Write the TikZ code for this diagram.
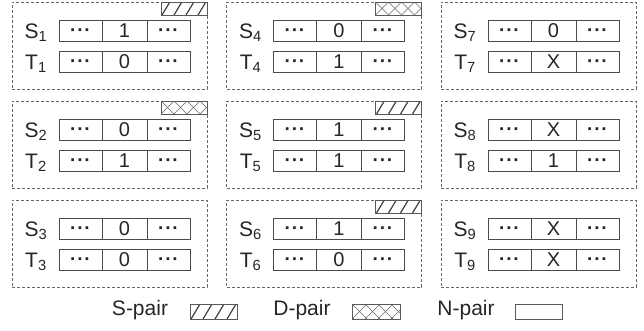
\documentclass[tikz,border=0pt]{standalone}
\usepackage{fontspec}
\setmainfont{Liberation Sans}
\newcommand{\dotsx}{\raisebox{-5pt}[0pt][0pt]{\fontsize{19}{19}\selectfont\bfseries ·\kern0.8pt·\kern0.8pt·}}
\tikzset{
  panel/.style={draw=black!60, dash pattern=on 3pt off 2pt, line width=0.6pt, inner sep=0pt, outer sep=0pt,
    minimum width=195pt, minimum height=87pt, anchor=north west},
  cell/.style={draw=black!70, line width=0.7pt, minimum height=21pt, inner sep=0pt, outer sep=0pt,
    anchor=west, font=\fontsize{20}{20}\selectfont, text=black!85},
  lbl/.style={inner sep=0pt, font=\fontsize{21}{21}\selectfont, text=black!85},
  swatch/.style={draw=black!65, line width=0.6pt, inner sep=0pt, outer sep=0pt},
  shatch/.style={swatch, path picture={
      \foreach \k in {-1,...,5}
        \draw[line width=1.2pt, black!75]
          ([xshift=\k*12pt+1pt]path picture bounding box.south west) -- ++(9pt,15pt);
    }},
  dhatch/.style={swatch, path picture={
      \foreach \k in {-1,...,5}{
        \draw[line width=0.5pt, black!60]
          ([xshift=\k*13pt]path picture bounding box.south west) -- ++(15pt,15pt);
        \draw[line width=0.5pt, black!60]
          ([xshift=\k*13pt]path picture bounding box.north west) -- ++(15pt,-15pt);
      }
    }},
  legtext/.style={inner sep=0pt, font=\fontsize{21}{21}\selectfont, text=black!85}
}
\begin{document}
\begin{tikzpicture}[x=1pt,y=-1pt]
\useasboundingbox (0,0) rectangle (644,330);
\foreach \c/\r/\i/\sv/\tv/\tg in {0/0/1/1/0/s, 0/1/2/0/1/d, 0/2/3/0/0/n,
                                 1/0/4/0/1/d, 1/1/5/1/1/s, 1/2/6/1/0/s,
                                 2/0/7/0/X/n, 2/1/8/X/1/n, 2/2/9/X/X/n}{
  \pgfmathsetmacro\px{12+214.5*\c}
  \pgfmathsetmacro\py{2+99*\r}
  \node[panel] (p\i) at (\px,\py) {};
  \if s\tg
    \node[shatch, minimum width=46pt, minimum height=13pt, anchor=north east] (tag\i) at (p\i.north east) {};
  \fi
  \if d\tg
    \node[dhatch, minimum width=46pt, minimum height=13pt, anchor=north east] (tag\i) at (p\i.north east) {};
  \fi
  % S row
  \node[lbl] (ls\i) at (\px+24,\py+31) {S\textsubscript{\i}};
  \node[cell, minimum width=43pt] (s\i-a) at (\px+47,\py+29) {\dotsx};
  \node[cell, minimum width=45pt] (s\i-b) at (s\i-a.east) {\sv};
  \node[cell, minimum width=43pt] (s\i-c) at (s\i-b.east) {\dotsx};
  % T row
  \node[lbl] (lt\i) at (\px+24,\py+62) {T\textsubscript{\i}};
  \node[cell, minimum width=43pt] (t\i-a) at (\px+47,\py+60) {\dotsx};
  \node[cell, minimum width=45pt] (t\i-b) at (t\i-a.east) {\tv};
  \node[cell, minimum width=43pt] (t\i-c) at (t\i-b.east) {\dotsx};
}
% legend
\node[legtext] (legS) at (140,310) {S-pair};
\node[shatch, minimum width=47pt, minimum height=15pt] (swS) at (213.5,311.5) {};
\node[legtext] (legD) at (302,310) {D-pair};
\node[dhatch, minimum width=48pt, minimum height=15pt] (swD) at (376,311.5) {};
\node[legtext] (legN) at (466,310) {N-pair};
\node[swatch, minimum width=47pt, minimum height=15pt] (swN) at (538.5,311.5) {};
\end{tikzpicture}
\end{document}
